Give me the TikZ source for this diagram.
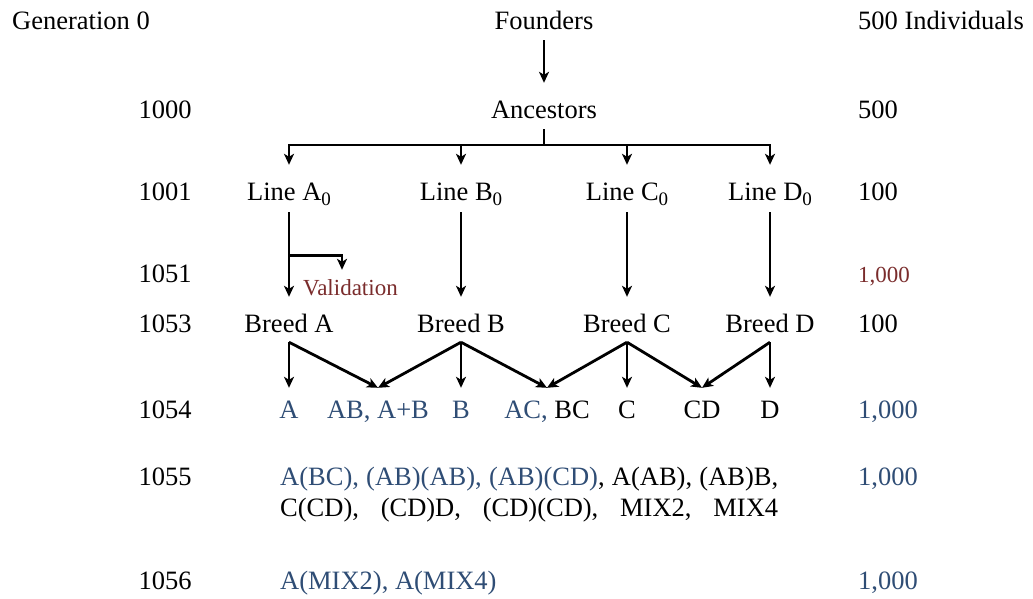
\documentclass[tikz,border=0pt]{standalone}
\usepackage{fontspec}
\setmainfont{Liberation Serif}
\usetikzlibrary{arrows.meta}
\definecolor{popblue}{RGB}{47,77,117}
\definecolor{valred}{RGB}{122,44,44}
% lowered subscript zero used in the line names
\newcommand\zsub{\raisebox{-5.5pt}{\fontsize{19}{19}\selectfont 0}}

\begin{document}
\begin{tikzpicture}[x=1pt,y=-1pt,
  lbl/.style={inner sep=0pt, anchor=base, text height=18pt, text depth=5pt,
              font=\fontsize{26.5}{31}\selectfont},
  lbll/.style={lbl, anchor=base west},
  small/.style={font=\fontsize{23}{27}\selectfont},
  flow/.style={line width=2.8pt, -{Stealth[length=11pt,width=10pt,inset=3pt]}},
  link/.style={line width=2.8pt}]
\useasboundingbox (0,0) rectangle (1033,598);

% ---- header row
\node[lbll] (gen)      at (12,29)  {Generation 0};
\node[lbl]  (founders) at (544,29) {Founders};
\node[lbll] (indiv)    at (858,29) {500 Individuals};

% ---- generation numbers (left column)
\node[lbl] (g1000) at (165,118) {1000};
\node[lbl] (g1001) at (165,200) {1001};
\node[lbl] (g1051) at (165,282) {1051};
\node[lbl] (g1053) at (165,332) {1053};
\node[lbl] (g1054) at (165,418) {1054};
\node[lbl] (g1055) at (165,485) {1055};
\node[lbl] (g1056) at (165,589) {1056};

% ---- population sizes (right column)
\node[lbll] (n1000) at (858,118) {500};
\node[lbll] (n1001) at (858,200) {100};
\node[lbll, small, text=valred] (n1051) at (858,282) {1,000};
\node[lbll] (n1053) at (858,332) {100};
\node[lbll, text=popblue] (n1054) at (858,418) {1,000};
\node[lbll, text=popblue] (n1055) at (858,485) {1,000};
\node[lbll, text=popblue] (n1056) at (858,589) {1,000};

% ---- pedigree
\node[lbl] (anc) at (544,118) {Ancestors};

\node[lbl] (lineA) at (289,200) {Line A\zsub};
\node[lbl] (lineB) at (461,200) {Line B\zsub};
\node[lbl] (lineC) at (627,200) {Line C\zsub};
\node[lbl] (lineD) at (770,200) {Line D\zsub};

\node[lbl] (breedA) at (289,332) {Breed A};
\node[lbl] (breedB) at (461,332) {Breed B};
\node[lbl] (breedC) at (627,332) {Breed C};
\node[lbl] (breedD) at (770,332) {Breed D};

\node[lbll, small, text=valred] (valid) at (303,295) {Validation};

% crosses of generation 1054
\node[lbl, text=popblue] (rA)  at (289,418) {A};
\node[lbl, text=popblue] (rAB) at (378,418) {AB, A+B};
\node[lbl, text=popblue] (rB)  at (461,418) {B};
\node[lbl] (rAC) at (547,418) {{\color{popblue}AC,} BC};
\node[lbl] (rC)  at (627,418) {C};
\node[lbl] (rCD) at (702,418) {CD};
\node[lbl] (rD)  at (770,418) {D};

% crosses of generations 1055 and 1056
\node[lbll] (mixA) at (280,485)
  {\hbox to 498pt{{\color{popblue}A(BC), (AB)(AB), (AB)(CD)}, A(AB), (AB)B,}};
\node[lbll] (mixB) at (280,516)
  {\hbox to 498pt{C(CD),\hfill (CD)D,\hfill (CD)(CD),\hfill MIX2,\hfill MIX4}};
\node[lbll, text=popblue] (mixC) at (280,589) {A(MIX2), A(MIX4)};

% ---- connectors
\draw[flow, shorten <=6pt, shorten >=17pt] (founders.south) -- (anc.north);

\coordinate (bus) at (0,145);
\draw[link, shorten <=6pt] (anc.south) -- (anc.south |- bus);
\draw[flow, shorten >=17pt] (anc.south |- bus) -| (lineA.north);
\draw[flow, shorten >=17pt] (anc.south |- bus) -| (lineD.north);
\draw[flow, shorten >=17pt] (lineB.north |- bus) -- (lineB.north);
\draw[flow, shorten >=17pt] (lineC.north |- bus) -- (lineC.north);

\foreach \l in {A,B,C,D}
  \draw[flow, shorten <=7pt, shorten >=17pt] (line\l.south) -- (line\l.south |- breed\l.north);

% validation branch
\path (lineA.south) ++(0,50) coordinate (vfork);
\path (valid.north west) ++(39,-7) coordinate (vtip);
\draw[flow] (vfork) -| (vtip);

% breed apexes and arrow tips
\foreach \l in {A,B,C,D}
  \path (breed\l.south) ++(0,5) coordinate (ap\l);
\foreach \t in {A,AB,B,AC,C,CD,D}
  \path (r\t.north) ++(0,-12) coordinate (t\t);

\draw[flow] (apA) -- (tA);
\draw[flow] (apA) -- (tAB);
\draw[flow] (apB) -- (tAB);
\draw[flow] (apB) -- (tB);
\draw[flow] (apB) -- (tAC);
\draw[flow] (apC) -- (tAC);
\draw[flow] (apC) -- (tC);
\draw[flow] (apC) -- (tCD);
\draw[flow] (apD) -- (tCD);
\draw[flow] (apD) -- (tD);
\end{tikzpicture}
\end{document}
